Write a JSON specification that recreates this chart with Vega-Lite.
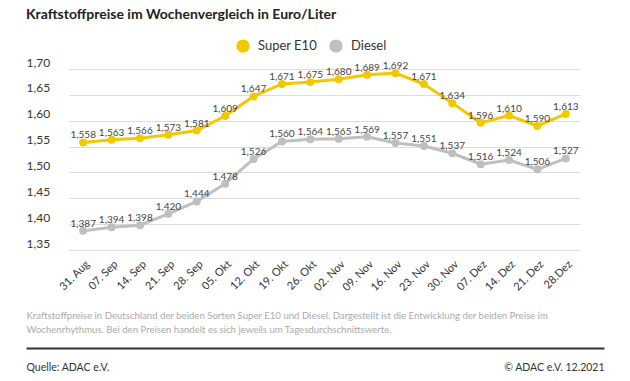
{
  "$schema": "https://vega.github.io/schema/vega-lite/v6.json",
  "width": 570,
  "height": 181,
  "autosize": "none",
  "padding": {"left": 26, "top": 69, "right": 34, "bottom": 131},
  "config": {
    "locale": {"number": {"decimal": ",", "thousands": ".", "grouping": [3], "currency": ["", " €"]}},
    "font": "Lato",
    "view": {"stroke": null},
    "legend": {"layout": {"top": {"anchor": "middle"}}}
  },
  "title": {
    "text": "Kraftstoffpreise im Wochenvergleich in Euro/Liter",
    "anchor": "start",
    "frame": "group",
    "fontSize": 14,
    "fontWeight": "bold",
    "color": "#222222",
    "offset": 17
  },
  "data": {
    "values": [
      {"week": "31. Aug", "type": "Super E10", "price": 1.558},
      {"week": "07. Sep", "type": "Super E10", "price": 1.563},
      {"week": "14. Sep", "type": "Super E10", "price": 1.566},
      {"week": "21. Sep", "type": "Super E10", "price": 1.573},
      {"week": "28. Sep", "type": "Super E10", "price": 1.581},
      {"week": "05. Okt", "type": "Super E10", "price": 1.609},
      {"week": "12. Okt", "type": "Super E10", "price": 1.647},
      {"week": "19. Okt", "type": "Super E10", "price": 1.671},
      {"week": "26. Okt", "type": "Super E10", "price": 1.675},
      {"week": "02. Nov", "type": "Super E10", "price": 1.680},
      {"week": "09. Nov", "type": "Super E10", "price": 1.689},
      {"week": "16. Nov", "type": "Super E10", "price": 1.692},
      {"week": "23. Nov", "type": "Super E10", "price": 1.671},
      {"week": "30. Nov", "type": "Super E10", "price": 1.634},
      {"week": "07. Dez", "type": "Super E10", "price": 1.596},
      {"week": "14. Dez", "type": "Super E10", "price": 1.610},
      {"week": "21. Dez", "type": "Super E10", "price": 1.590},
      {"week": "28.Dez", "type": "Super E10", "price": 1.613},
      {"week": "31. Aug", "type": "Diesel", "price": 1.387},
      {"week": "07. Sep", "type": "Diesel", "price": 1.394},
      {"week": "14. Sep", "type": "Diesel", "price": 1.398},
      {"week": "21. Sep", "type": "Diesel", "price": 1.420},
      {"week": "28. Sep", "type": "Diesel", "price": 1.444},
      {"week": "05. Okt", "type": "Diesel", "price": 1.478},
      {"week": "12. Okt", "type": "Diesel", "price": 1.526},
      {"week": "19. Okt", "type": "Diesel", "price": 1.560},
      {"week": "26. Okt", "type": "Diesel", "price": 1.564},
      {"week": "02. Nov", "type": "Diesel", "price": 1.565},
      {"week": "09. Nov", "type": "Diesel", "price": 1.569},
      {"week": "16. Nov", "type": "Diesel", "price": 1.557},
      {"week": "23. Nov", "type": "Diesel", "price": 1.551},
      {"week": "30. Nov", "type": "Diesel", "price": 1.537},
      {"week": "07. Dez", "type": "Diesel", "price": 1.516},
      {"week": "14. Dez", "type": "Diesel", "price": 1.524},
      {"week": "21. Dez", "type": "Diesel", "price": 1.506},
      {"week": "28.Dez", "type": "Diesel", "price": 1.527}
    ]
  },
  "layer": [
    {
      "encoding": {
        "x": {
          "field": "week", "type": "ordinal", "sort": null,
          "scale": {"type": "point", "range": [43, 554]},
          "axis": {
            "orient": "bottom", "labelAngle": -45, "labelFontSize": 11, "labelColor": "#333333",
            "domain": false, "ticks": false, "tickSize": 0, "labelPadding": 8, "grid": false,
            "title": ["Kraftstoffpreise in Deutschland der beiden Sorten Super E10 und Diesel. Dargestellt ist die Entwicklung der beiden Preise im", "Wochenrhythmus. Bei den Preisen handelt es sich jeweils um Tagesdurchschnittswerte."],
            "titleAnchor": "start", "titleAlign": "left", "titleX": 0, "titleY": 60, "titleBaseline": "top",
            "titleFontSize": 9.6, "titleFontWeight": "normal", "titleColor": "#aaaaaa", "titleLineHeight": 14
          }
        },
        "y": {
          "field": "price", "type": "quantitative",
          "scale": {"domain": [1.35, 1.70], "nice": false, "zero": false},
          "axis": {
            "values": [1.35, 1.40, 1.45, 1.50, 1.55, 1.60, 1.65, 1.70],
            "format": ".2f", "grid": true, "gridColor": "#dddddd", "domain": false, "ticks": false, "tickSize": 0,
            "labelAlign": "left", "labelPadding": 0, "labelBaseline": "alphabetic", "labelOffset": -3,
            "labelFontSize": 12, "labelColor": "#333333", "title": null
          }
        }
      },
      "layer": [
        {
          "mark": {"type": "line", "strokeWidth": 3},
          "encoding": {
            "color": {
              "field": "type", "type": "nominal",
              "scale": {"domain": ["Super E10", "Diesel"], "range": ["#f2c800", "#bfbfbf"]},
              "legend": {"title": null, "orient": "top", "direction": "horizontal", "symbolType": "circle", "symbolSize": 140, "labelFontSize": 13, "labelColor": "#333333", "labelOffset": 8, "columnPadding": 10, "offset": 12}
            }
          }
        },
        {
          "mark": {"type": "circle", "opacity": 1, "size": 64},
          "encoding": {
            "color": {
              "field": "type", "type": "nominal",
              "scale": {"domain": ["Super E10", "Diesel"], "range": ["#f2c800", "#bfbfbf"]},
              "legend": {"title": null, "orient": "top", "direction": "horizontal", "symbolType": "circle", "symbolSize": 140, "labelFontSize": 13, "labelColor": "#333333", "labelOffset": 8, "columnPadding": 10, "offset": 12}
            }
          }
        },
        {
          "mark": {"type": "text", "dy": -4, "baseline": "alphabetic", "fontSize": 10, "color": "#444444"},
          "encoding": {"text": {"field": "price", "type": "quantitative", "format": ".3f"}}
        }
      ]
    },
    {
      "mark": {"type": "point", "opacity": 0},
      "encoding": {
        "x": {
          "field": "week", "type": "ordinal", "sort": null,
          "scale": {"type": "point", "range": [0, 578]},
          "axis": {
            "orient": "bottom", "offset": 98, "domain": true, "domainColor": "#333333", "domainWidth": 2,
            "labels": false, "ticks": false, "grid": false,
            "title": "Quelle: ADAC e.V.", "titleAnchor": "start", "titleAlign": "left", "titleX": 0, "titleY": 19,
            "titleBaseline": "middle", "titleFontSize": 10.5, "titleFontWeight": "normal", "titleColor": "#333333"
          }
        },
        "y": {
          "field": "price", "type": "quantitative",
          "axis": {
            "orient": "right", "labels": false, "ticks": false, "domain": false, "grid": false,
            "title": "© ADAC e.V. 12.2021", "titleAngle": 0, "titleAlign": "right", "titleX": 8, "titleY": 298,
            "titleBaseline": "middle", "titleFontSize": 10.5, "titleFontWeight": "normal", "titleColor": "#333333"
          }
        }
      }
    }
  ],
  "resolve": {"scale": {"x": "independent", "y": "independent"}}
}
